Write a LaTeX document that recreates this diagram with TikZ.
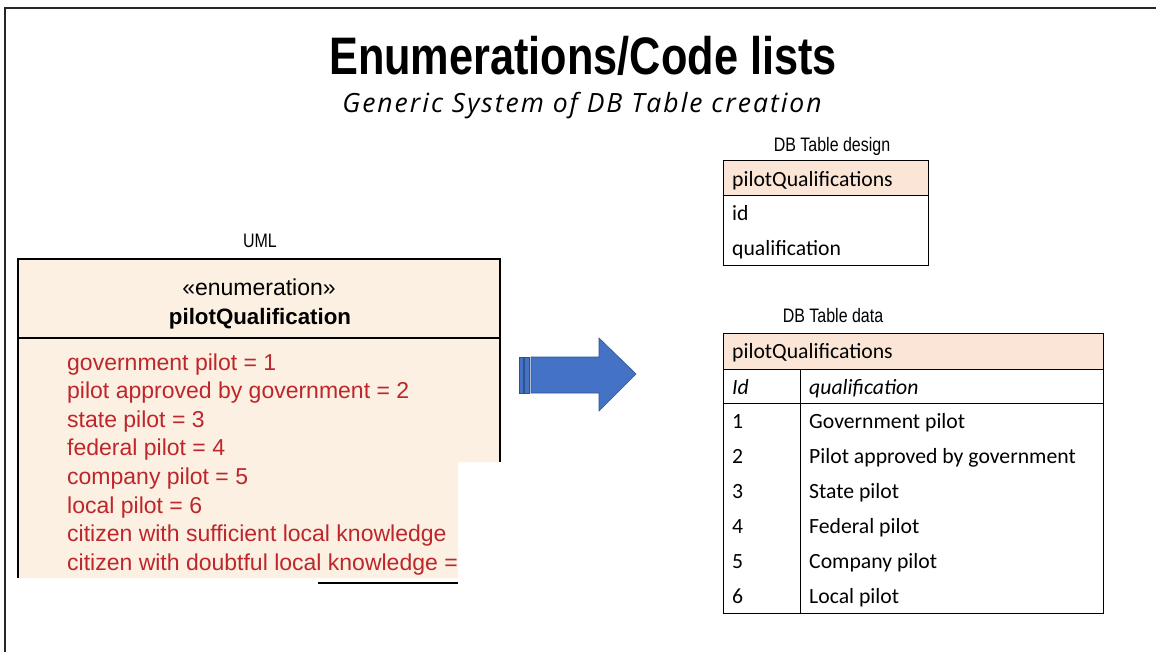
\documentclass[tikz,border=0pt]{standalone}
\usepackage{fontspec}
\setmainfont{Liberation Sans}
\newfontfamily\narrowfont[FakeStretch=0.82]{Liberation Sans}
\newfontfamily\calfont{Carlito}
\newfontfamily\subfont[LetterSpace=7.5]{Open Sans}
\definecolor{umlfill}{RGB}{251,240,225}
\definecolor{hdrfill}{RGB}{251,229,214}
\definecolor{itemred}{RGB}{190,38,44}
\definecolor{arrowblue}{RGB}{68,114,196}
\definecolor{arrowedge}{RGB}{47,82,143}
\begin{document}
\begin{tikzpicture}[x=1pt,y=-1pt,
  lbl/.style={anchor=base,inner sep=0pt,font=\narrowfont\fontsize{19.5}{24}\selectfont},
  item/.style={anchor=base west,inner sep=0pt,text=itemred,font=\fontsize{23}{27}\selectfont},
  cell/.style={anchor=base west,inner sep=0pt,font=\calfont\fontsize{21.7}{26}\selectfont},
  icell/.style={cell,font=\calfont\itshape\fontsize{21.7}{26}\selectfont},
  tbl/.style={draw=black,line width=1pt},
  frame/.style={draw=black!85,line width=2.5pt}]
\useasboundingbox (0,0) rectangle (1156,652);

% slide frame
\draw[frame] (5,652) -- (5,8) -- (1156,8);

% headings
\node[anchor=base,inner sep=0pt,font=\narrowfont\bfseries\fontsize{52.8}{60}\selectfont] (title) at (583,75) {Enumerations/Code lists};
\node[anchor=base,inner sep=0pt,font=\subfont\itshape\fontsize{26.5}{30}\selectfont] (subtitle) at (582,113) {Generic System of DB Table creation};

% UML enumeration class (lower right corner cropped away)
\node[lbl] (umllbl) at (260,248) {UML};
\def\umlshape{(18,259) -- (500,259) -- (500,462) -- (458,462) -- (458,578) -- (18,578) -- cycle}
\fill[umlfill] \umlshape;
\draw[line width=1.2pt] (18,578) -- (18,259) -- (500,259) -- (500,462);
\draw[line width=1.2pt] (18,338) -- (500,338);
\node[anchor=base,inner sep=0pt,font=\fontsize{23}{27}\selectfont] (stereo) at (259,295) {«enumeration»};
\node[anchor=base,inner sep=0pt,font=\bfseries\fontsize{22.3}{26}\selectfont] (cname) at (260,324) {pilotQualification};
\begin{scope}
  \clip \umlshape;
  \node[item] (i1) at (67,370) {government pilot = 1};
  \node[item] (i2) at (67,398.5) {pilot approved by government = 2};
  \node[item] (i3) at (67,427) {state pilot = 3};
  \node[item] (i4) at (67,455.5) {federal pilot = 4};
  \node[item] (i5) at (67,484) {company pilot = 5};
  \node[item] (i6) at (67,513) {local pilot = 6};
  \node[item] (i7) at (67,541.5) {citizen with sufficient local knowledge};
  \node[item] (i8) at (67,570) {citizen with doubtful local knowledge = 8};
\end{scope}
\draw[line width=1.2pt] (318,583) -- (458,583);

% transformation arrow
\begin{scope}[fill=arrowblue,draw=arrowedge,line width=0.6pt]
  \filldraw (519,357) rectangle (523,393);
  \filldraw (524.5,357) rectangle (529,393);
  \filldraw (531,357) -- (599,357) -- (599,338) -- (636,374) -- (599,411) -- (599,393) -- (531,393) -- cycle;
\end{scope}

% DB table design
\node[lbl] (designlbl) at (832,152) {DB Table design};
\fill[hdrfill] (723,161) rectangle (928,196);
\draw[tbl] (723,161) rectangle (928,266);
\draw[tbl] (723,196) -- (928,196);
\node[cell] (d0) at (732,187) {pilotQualifications};
\node[cell] (d1) at (732,221) {id};
\node[cell] (d2) at (732,256) {qualification};

% DB table data
\node[lbl] (datalbl) at (833,322) {DB Table data};
\fill[hdrfill] (723,333) rectangle (1103,369);
\draw[tbl] (723,333) rectangle (1103,613);
\draw[tbl] (723,369) -- (1103,369);
\draw[tbl] (723,403.5) -- (1103,403.5);
\draw[tbl] (800,369) -- (800,613);
\node[cell] (h0) at (732,358.5) {pilotQualifications};
\node[icell] (hid) at (732,394) {Id};
\node[icell] (hq) at (809,394) {qualification};
\node[cell] (n1) at (732,428.5) {1};
\node[cell] (q1) at (809,428.5) {Government pilot};
\node[cell] (n2) at (732,463.5) {2};
\node[cell] (q2) at (809,463.5) {Pilot approved by government};
\node[cell] (n3) at (732,498.5) {3};
\node[cell] (q3) at (809,498.5) {State pilot};
\node[cell] (n4) at (732,533.5) {4};
\node[cell] (q4) at (809,533.5) {Federal pilot};
\node[cell] (n5) at (732,568.5) {5};
\node[cell] (q5) at (809,568.5) {Company pilot};
\node[cell] (n6) at (732,603.5) {6};
\node[cell] (q6) at (809,603.5) {Local pilot};
\end{tikzpicture}
\end{document}
